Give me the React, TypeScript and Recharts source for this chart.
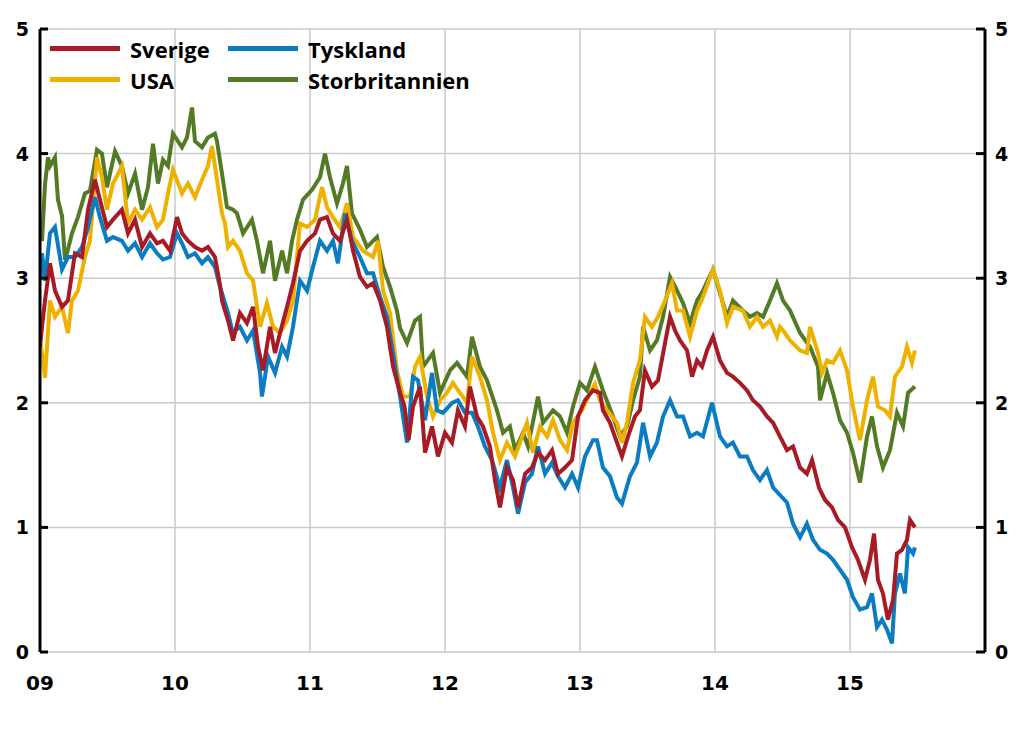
import React from "react";
import { LineChart, Line, XAxis, YAxis, CartesianGrid, Legend } from "recharts";

// x = years since start of 2009, y = percent
const sverige: [number, number][] = [
  [0.0, 2.45], [0.015, 2.61], [0.037, 2.82], [0.074, 3.12], [0.111, 2.9], [0.163, 2.77], [0.207, 2.82], [0.259, 3.2], [0.311, 3.17], [0.356, 3.55],
  [0.407, 3.79], [0.444, 3.63], [0.496, 3.41], [0.541, 3.47], [0.607, 3.55], [0.652, 3.36], [0.704, 3.47], [0.756, 3.25], [0.815, 3.36], [0.867, 3.28],
  [0.911, 3.3], [0.963, 3.22], [1.015, 3.49], [1.052, 3.36], [1.096, 3.3], [1.148, 3.25], [1.2, 3.22], [1.244, 3.25], [1.296, 3.17], [1.333, 2.95],
  [1.348, 2.82], [1.393, 2.66], [1.43, 2.5], [1.481, 2.72], [1.533, 2.64], [1.578, 2.77], [1.615, 2.45], [1.652, 2.26], [1.704, 2.61], [1.741, 2.4],
  [1.778, 2.56], [1.83, 2.77], [1.874, 2.96], [1.926, 3.22], [1.978, 3.3], [2.037, 3.36], [2.074, 3.47], [2.126, 3.49], [2.17, 3.36], [2.222, 3.3],
  [2.274, 3.47], [2.319, 3.22], [2.37, 3.01], [2.422, 2.93], [2.467, 2.96], [2.519, 2.82], [2.57, 2.61], [2.615, 2.29], [2.667, 2.08], [2.7, 1.97],
  [2.73, 1.7], [2.763, 1.97], [2.815, 2.13], [2.852, 1.6], [2.904, 1.81], [2.948, 1.57], [3.0, 1.76], [3.052, 1.68], [3.096, 1.94], [3.148, 1.81],
  [3.185, 2.13], [3.237, 1.89], [3.281, 1.81], [3.333, 1.65], [3.37, 1.38], [3.407, 1.16], [3.459, 1.48], [3.504, 1.38], [3.541, 1.16], [3.593, 1.43],
  [3.644, 1.48], [3.689, 1.6], [3.741, 1.54], [3.793, 1.62], [3.837, 1.43], [3.889, 1.48], [3.941, 1.54], [3.985, 1.89], [4.037, 2.02], [4.096, 2.1],
  [4.148, 2.08], [4.17, 1.94], [4.222, 1.84], [4.274, 1.68], [4.311, 1.57], [4.356, 1.73], [4.407, 1.89], [4.444, 1.94], [4.481, 2.26], [4.533, 2.13],
  [4.578, 2.18], [4.63, 2.48], [4.667, 2.69], [4.704, 2.58], [4.741, 2.5], [4.793, 2.42], [4.83, 2.21], [4.867, 2.34], [4.904, 2.29], [4.941, 2.42],
  [4.985, 2.53], [5.037, 2.34], [5.089, 2.24], [5.133, 2.21], [5.185, 2.16], [5.237, 2.1], [5.281, 2.02], [5.333, 1.97], [5.385, 1.89], [5.43, 1.84],
  [5.481, 1.73], [5.533, 1.62], [5.578, 1.65], [5.63, 1.48], [5.681, 1.43], [5.719, 1.54], [5.77, 1.32], [5.815, 1.22], [5.867, 1.16], [5.911, 1.06],
  [5.963, 1.0], [6.015, 0.84], [6.059, 0.74], [6.111, 0.58], [6.148, 0.74], [6.178, 0.95], [6.207, 0.58], [6.244, 0.47], [6.281, 0.26], [6.319, 0.42],
  [6.348, 0.79], [6.385, 0.82], [6.422, 0.9], [6.444, 1.06], [6.481, 1.0],
];

const usa: [number, number][] = [
  [0.0, 2.5], [0.015, 2.4], [0.037, 2.2], [0.074, 2.82], [0.111, 2.69], [0.163, 2.77], [0.207, 2.56], [0.237, 2.82], [0.281, 2.9], [0.333, 3.17],
  [0.37, 3.3], [0.422, 3.97], [0.459, 3.81], [0.496, 3.55], [0.541, 3.76], [0.607, 3.9], [0.652, 3.44], [0.704, 3.55], [0.756, 3.47], [0.815, 3.57],
  [0.867, 3.41], [0.911, 3.47], [0.948, 3.68], [0.985, 3.87], [1.052, 3.68], [1.096, 3.76], [1.148, 3.65], [1.2, 3.79], [1.244, 3.9], [1.274, 4.06],
  [1.311, 3.79], [1.348, 3.52], [1.37, 3.44], [1.393, 3.25], [1.43, 3.3], [1.481, 3.22], [1.533, 3.04], [1.578, 2.98], [1.63, 2.61], [1.681, 2.8],
  [1.726, 2.61], [1.778, 2.56], [1.83, 2.66], [1.874, 2.82], [1.926, 3.44], [1.978, 3.41], [2.037, 3.47], [2.089, 3.73], [2.126, 3.57], [2.17, 3.49],
  [2.222, 3.41], [2.274, 3.6], [2.319, 3.33], [2.393, 3.22], [2.467, 3.17], [2.504, 3.3], [2.541, 2.9], [2.593, 2.72], [2.644, 2.26], [2.689, 2.05],
  [2.741, 2.05], [2.778, 2.29], [2.815, 2.37], [2.867, 2.05], [2.911, 1.89], [2.963, 2.02], [3.015, 2.08], [3.059, 2.16], [3.111, 2.08], [3.163, 2.0],
  [3.2, 2.37], [3.259, 2.21], [3.311, 2.02], [3.356, 1.76], [3.407, 1.54], [3.459, 1.68], [3.519, 1.57], [3.556, 1.68], [3.607, 1.84], [3.652, 1.6],
  [3.704, 1.81], [3.756, 1.73], [3.8, 1.86], [3.852, 1.7], [3.904, 1.62], [3.948, 1.84], [4.015, 1.94], [4.074, 2.08], [4.111, 2.15], [4.148, 2.02],
  [4.2, 1.94], [4.274, 1.84], [4.311, 1.68], [4.348, 1.84], [4.393, 2.16], [4.444, 2.34], [4.481, 2.69], [4.533, 2.61], [4.578, 2.69], [4.63, 2.82],
  [4.681, 2.96], [4.719, 2.74], [4.763, 2.74], [4.815, 2.53], [4.867, 2.74], [4.911, 2.85], [4.985, 3.07], [5.037, 2.9], [5.089, 2.64], [5.133, 2.77],
  [5.207, 2.74], [5.259, 2.61], [5.311, 2.69], [5.356, 2.61], [5.407, 2.66], [5.459, 2.53], [5.481, 2.61], [5.504, 2.58], [5.556, 2.5], [5.63, 2.42],
  [5.681, 2.4], [5.704, 2.61], [5.763, 2.4], [5.793, 2.24], [5.83, 2.34], [5.874, 2.32], [5.926, 2.42], [5.978, 2.26], [6.022, 1.97], [6.074, 1.7],
  [6.126, 2.02], [6.17, 2.21], [6.207, 1.97], [6.259, 1.94], [6.296, 1.89], [6.333, 2.21], [6.385, 2.29], [6.422, 2.45], [6.459, 2.32], [6.481, 2.42],
];

const tyskland: [number, number][] = [
  [0.0, 3.0], [0.015, 3.2], [0.037, 2.98], [0.074, 3.36], [0.111, 3.41], [0.163, 3.07], [0.207, 3.17], [0.259, 3.17], [0.311, 3.25], [0.356, 3.41],
  [0.407, 3.65], [0.444, 3.49], [0.496, 3.3], [0.541, 3.33], [0.607, 3.3], [0.652, 3.22], [0.704, 3.28], [0.756, 3.17], [0.815, 3.28], [0.867, 3.2],
  [0.911, 3.15], [0.963, 3.17], [1.015, 3.36], [1.052, 3.28], [1.096, 3.17], [1.148, 3.2], [1.2, 3.12], [1.244, 3.17], [1.296, 3.09], [1.333, 2.93],
  [1.348, 2.88], [1.393, 2.72], [1.43, 2.55], [1.444, 2.58], [1.481, 2.61], [1.533, 2.5], [1.578, 2.58], [1.63, 2.24], [1.644, 2.05], [1.689, 2.37],
  [1.741, 2.24], [1.793, 2.45], [1.83, 2.37], [1.874, 2.61], [1.926, 2.98], [1.978, 2.9], [2.022, 3.09], [2.074, 3.3], [2.126, 3.22], [2.17, 3.3],
  [2.207, 3.12], [2.259, 3.52], [2.311, 3.3], [2.37, 3.17], [2.422, 3.04], [2.467, 3.04], [2.519, 2.85], [2.57, 2.69], [2.615, 2.4], [2.667, 2.05],
  [2.719, 1.68], [2.763, 2.21], [2.8, 2.18], [2.852, 1.86], [2.904, 2.24], [2.941, 1.94], [2.985, 1.92], [3.052, 2.0], [3.096, 2.02], [3.148, 1.92],
  [3.2, 1.92], [3.244, 1.81], [3.296, 1.65], [3.348, 1.54], [3.407, 1.32], [3.459, 1.54], [3.504, 1.32], [3.541, 1.11], [3.593, 1.36], [3.644, 1.43],
  [3.689, 1.65], [3.741, 1.43], [3.793, 1.52], [3.837, 1.41], [3.889, 1.32], [3.941, 1.43], [3.985, 1.32], [4.037, 1.57], [4.096, 1.7], [4.126, 1.7],
  [4.17, 1.48], [4.222, 1.41], [4.274, 1.24], [4.311, 1.19], [4.37, 1.41], [4.422, 1.52], [4.467, 1.84], [4.519, 1.57], [4.57, 1.68], [4.615, 1.89],
  [4.667, 2.02], [4.719, 1.89], [4.763, 1.89], [4.815, 1.73], [4.867, 1.76], [4.911, 1.73], [4.978, 2.0], [5.037, 1.73], [5.089, 1.65], [5.133, 1.68],
  [5.185, 1.57], [5.237, 1.57], [5.281, 1.46], [5.333, 1.38], [5.385, 1.46], [5.43, 1.32], [5.481, 1.26], [5.533, 1.2], [5.578, 1.03], [5.63, 0.92],
  [5.681, 1.03], [5.726, 0.9], [5.778, 0.82], [5.83, 0.79], [5.874, 0.74], [5.926, 0.66], [5.978, 0.58], [6.022, 0.44], [6.074, 0.34], [6.126, 0.36],
  [6.163, 0.47], [6.2, 0.2], [6.237, 0.26], [6.274, 0.18], [6.311, 0.07], [6.333, 0.47], [6.37, 0.63], [6.407, 0.47], [6.43, 0.84], [6.467, 0.79],
  [6.481, 0.84],
];

const storbritannien: [number, number][] = [
  [0.0, 3.35], [0.015, 3.3], [0.037, 3.75], [0.059, 3.97], [0.074, 3.9], [0.111, 3.97], [0.133, 3.63], [0.163, 3.5], [0.185, 3.15], [0.2, 3.2],
  [0.237, 3.36], [0.281, 3.49], [0.333, 3.68], [0.37, 3.7], [0.422, 4.03], [0.459, 4.0], [0.496, 3.73], [0.556, 4.02], [0.607, 3.9], [0.652, 3.68],
  [0.704, 3.84], [0.756, 3.55], [0.8, 3.73], [0.837, 4.08], [0.874, 3.76], [0.911, 3.95], [0.948, 3.9], [0.985, 4.16], [1.052, 4.05], [1.089, 4.13],
  [1.126, 4.37], [1.148, 4.1], [1.2, 4.05], [1.244, 4.13], [1.296, 4.16], [1.311, 4.1], [1.348, 3.84], [1.385, 3.57], [1.43, 3.55], [1.459, 3.52],
  [1.504, 3.36], [1.57, 3.47], [1.607, 3.3], [1.652, 3.04], [1.704, 3.3], [1.741, 2.98], [1.793, 3.22], [1.83, 3.04], [1.867, 3.3], [1.904, 3.47],
  [1.948, 3.63], [2.015, 3.71], [2.074, 3.81], [2.111, 4.0], [2.148, 3.81], [2.2, 3.6], [2.244, 3.76], [2.274, 3.9], [2.311, 3.52], [2.37, 3.39],
  [2.422, 3.25], [2.496, 3.33], [2.541, 3.09], [2.593, 2.93], [2.644, 2.74], [2.667, 2.6], [2.719, 2.48], [2.778, 2.66], [2.815, 2.69], [2.837, 2.29],
  [2.911, 2.4], [2.963, 2.08], [3.037, 2.26], [3.089, 2.32], [3.163, 2.21], [3.2, 2.53], [3.259, 2.29], [3.311, 2.18], [3.385, 1.94], [3.43, 1.76],
  [3.481, 1.81], [3.519, 1.62], [3.578, 1.76], [3.615, 1.65], [3.689, 2.05], [3.726, 1.84], [3.8, 1.94], [3.852, 1.89], [3.904, 1.76], [3.948, 1.97],
  [4.0, 2.16], [4.052, 2.1], [4.111, 2.29], [4.17, 2.1], [4.244, 1.89], [4.296, 1.73], [4.348, 1.81], [4.393, 2.02], [4.444, 2.21], [4.467, 2.61],
  [4.519, 2.42], [4.57, 2.5], [4.615, 2.69], [4.667, 3.01], [4.719, 2.9], [4.763, 2.8], [4.815, 2.64], [4.867, 2.82], [4.911, 2.9], [4.985, 3.07],
  [5.037, 2.88], [5.089, 2.69], [5.133, 2.82], [5.207, 2.74], [5.259, 2.69], [5.311, 2.72], [5.356, 2.69], [5.407, 2.82], [5.459, 2.96], [5.504, 2.82],
  [5.556, 2.74], [5.63, 2.56], [5.704, 2.45], [5.763, 2.29], [5.778, 2.02], [5.83, 2.24], [5.874, 2.08], [5.926, 1.86], [5.978, 1.76], [6.022, 1.6],
  [6.074, 1.36], [6.126, 1.73], [6.163, 1.89], [6.2, 1.65], [6.244, 1.48], [6.296, 1.62], [6.348, 1.92], [6.393, 1.81], [6.43, 2.08], [6.481, 2.13],
];

const startYear = 2009;
const yearTicks = [2009, 2010, 2011, 2012, 2013, 2014, 2015];
const yearLabels = ["09", "10", "11", "12", "13", "14", "15"];
const valueTicks = [0, 1, 2, 3, 4, 5];

const series = [
  { key: "Storbritannien", points: storbritannien, color: "#537a25" },
  { key: "USA", points: usa, color: "#efb100" },
  { key: "Tyskland", points: tyskland, color: "#0b7cc1" },
  { key: "Sverige", points: sverige, color: "#a71b26" },
];

const legendRows = [
  ["Sverige", "Tyskland"],
  ["USA", "Storbritannien"],
];

const rowMap = new Map<number, Record<string, number>>();
series.forEach((s) => {
  s.points.forEach(([o, v]) => {
    const t = Math.round((startYear + o) * 1000) / 1000;
    const row = rowMap.get(t) ?? { t };
    row[s.key] = v;
    rowMap.set(t, row);
  });
});
const rows = Array.from(rowMap.values()).sort((a, b) => a.t - b.t);

const colorOf = (k: string) => series.find((s) => s.key === k)!.color;

const XTick = (props: any) => {
  const { x, y, payload } = props;
  const idx = yearTicks.indexOf(payload.value);
  return (
    <text x={x} y={y + 38} textAnchor="middle" fontFamily="'DejaVu Sans', sans-serif" fontWeight="bold" fontSize={20} fill="#000">
      {idx >= 0 ? yearLabels[idx] : ""}
    </text>
  );
};

const LeftTick = (props: any) => {
  const { x, y, payload } = props;
  return (
    <g>
      <line x1={x} x2={x + 8} y1={y} y2={y} stroke="#000" strokeWidth={3} />
      <text x={x - 11} y={y + 7} textAnchor="end" fontFamily="'DejaVu Sans', sans-serif" fontWeight="bold" fontSize={19} fill="#000">
        {payload.value}
      </text>
    </g>
  );
};

const RightTick = (props: any) => {
  const { x, y, payload } = props;
  return (
    <g>
      <line x1={x - 9} x2={x} y1={y} y2={y} stroke="#000" strokeWidth={3} />
      <text x={x + 10} y={y + 7} textAnchor="start" fontFamily="'DejaVu Sans', sans-serif" fontWeight="bold" fontSize={19} fill="#000">
        {payload.value}
      </text>
    </g>
  );
};

const renderLegend = () => (
  <div style={{ fontFamily: "'Open Sans', sans-serif", fontWeight: 700, fontSize: 22, color: "#000" }}>
    {legendRows.map((row, ri) => (
      <div key={ri} style={{ display: "flex", height: 31, alignItems: "center" }}>
        {row.map((k, ci) => (
          <div key={k} style={{ display: "flex", alignItems: "center", width: ci === 0 ? 178 : 260, flexShrink: 0 }}>
            <div style={{ width: 70, height: 5, background: colorOf(k), marginRight: 10, flexShrink: 0 }} />
            <span style={{ lineHeight: "22px", whiteSpace: "nowrap" }}>{k}</span>
          </div>
        ))}
      </div>
    ))}
  </div>
);

export default function App() {
  return (
    <div style={{ position: "absolute", left: 0, top: 0, width: 1024, height: 739, background: "#fff" }}>
      <LineChart width={1024} height={739} data={rows} margin={{ top: 29, right: 0, bottom: 0, left: 0 }}>
        <CartesianGrid stroke="#cacaca" strokeWidth={1.5} />
        <XAxis
          dataKey="t"
          type="number"
          domain={[2009, 2016]}
          ticks={yearTicks}
          interval={0}
          tick={XTick}
          tickLine={false}
          axisLine={false}
          tickSize={0}
          tickMargin={0}
          height={87}
          allowDataOverflow
        />
        <YAxis
          domain={[0, 5]}
          ticks={valueTicks}
          interval={0}
          width={40}
          tick={LeftTick}
          tickLine={false}
          tickSize={0}
          tickMargin={0}
          allowDataOverflow
          axisLine={{ stroke: "#000", strokeWidth: 3 }}
        />
        <YAxis
          yAxisId="right"
          orientation="right"
          domain={[0, 5]}
          ticks={valueTicks}
          interval={0}
          width={39}
          tick={RightTick}
          tickLine={false}
          tickSize={0}
          tickMargin={0}
          allowDataOverflow
          axisLine={{ stroke: "#000", strokeWidth: 3 }}
        />
        <Legend
          content={renderLegend}
          layout="horizontal"
          verticalAlign="middle"
          align="center"
          wrapperStyle={{ top: 33, left: 50, width: 460, height: 62 }}
        />
        {series.map((s, i) => (
          <Line
            key={s.key}
            yAxisId={i === 0 ? "right" : 0}
            dataKey={s.key}
            type="linear"
            stroke={s.color}
            strokeWidth={4}
            dot={false}
            activeDot={false}
            connectNulls
            isAnimationActive={false}
          />
        ))}
      </LineChart>
    </div>
  );
}
